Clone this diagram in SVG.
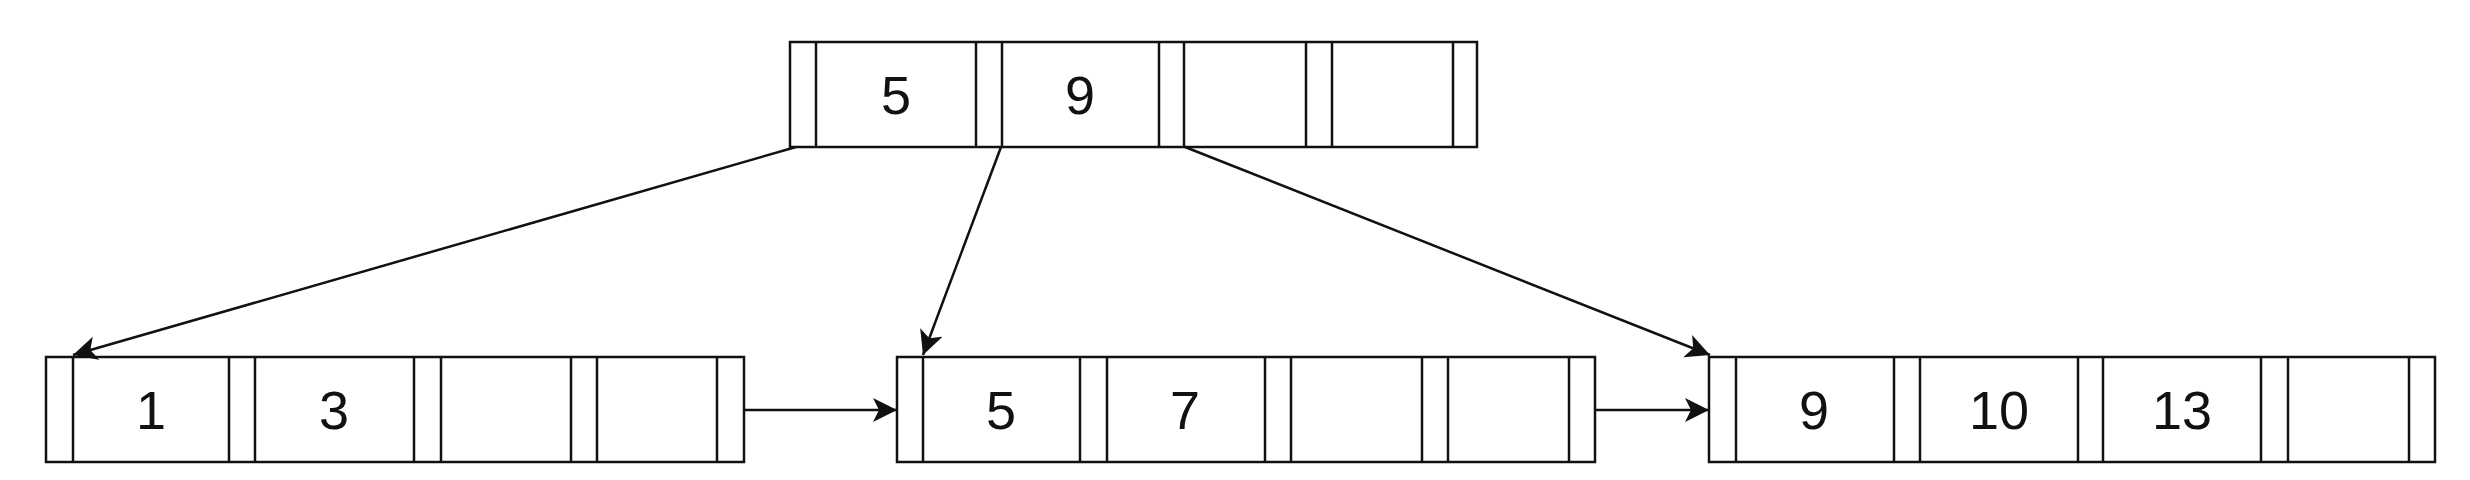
<svg xmlns="http://www.w3.org/2000/svg" width="2470" height="480" viewBox="0 0 2470 480">
  <style>
    .box { fill: #ffffff; stroke: #111111; stroke-width: 2.5; }
    .div { stroke: #111111; stroke-width: 2.5; }
    .key { font-family: "Liberation Sans", Arial, Helvetica, sans-serif; font-size: 54px; fill: #111111; text-anchor: middle; }
    .edge { fill: none; stroke: #111111; stroke-width: 2.5; marker-end: url(#arrow); }
  </style>
  <defs>
    <marker id="arrow" markerUnits="userSpaceOnUse" markerWidth="28" markerHeight="26" refX="24" refY="12" orient="auto">
      <path d="M0,0 L24,12 L0,24 L6,12 Z" fill="#111111"/>
    </marker>
  </defs>
  <rect width="2470" height="480" fill="#ffffff"/>

  <g id="node-root">
    <rect class="box" x="790" y="42" width="687" height="105"/>
    <line class="div" x1="816" y1="42" x2="816" y2="147"/>
    <line class="div" x1="976" y1="42" x2="976" y2="147"/>
    <line class="div" x1="1002" y1="42" x2="1002" y2="147"/>
    <line class="div" x1="1159" y1="42" x2="1159" y2="147"/>
    <line class="div" x1="1184" y1="42" x2="1184" y2="147"/>
    <line class="div" x1="1306" y1="42" x2="1306" y2="147"/>
    <line class="div" x1="1332" y1="42" x2="1332" y2="147"/>
    <line class="div" x1="1453" y1="42" x2="1453" y2="147"/>
    <text class="key" x="896" y="114">5</text>
    <text class="key" x="1080" y="114">9</text>
  </g>

  <g id="node-leaf-1">
    <rect class="box" x="46" y="357" width="698" height="105"/>
    <line class="div" x1="73" y1="357" x2="73" y2="462"/>
    <line class="div" x1="229" y1="357" x2="229" y2="462"/>
    <line class="div" x1="255" y1="357" x2="255" y2="462"/>
    <line class="div" x1="414" y1="357" x2="414" y2="462"/>
    <line class="div" x1="441" y1="357" x2="441" y2="462"/>
    <line class="div" x1="571" y1="357" x2="571" y2="462"/>
    <line class="div" x1="597" y1="357" x2="597" y2="462"/>
    <line class="div" x1="717" y1="357" x2="717" y2="462"/>
    <text class="key" x="151" y="429">1</text>
    <text class="key" x="334" y="429">3</text>
  </g>

  <g id="node-leaf-2">
    <rect class="box" x="897" y="357" width="698" height="105"/>
    <line class="div" x1="923" y1="357" x2="923" y2="462"/>
    <line class="div" x1="1080" y1="357" x2="1080" y2="462"/>
    <line class="div" x1="1107" y1="357" x2="1107" y2="462"/>
    <line class="div" x1="1265" y1="357" x2="1265" y2="462"/>
    <line class="div" x1="1291" y1="357" x2="1291" y2="462"/>
    <line class="div" x1="1422" y1="357" x2="1422" y2="462"/>
    <line class="div" x1="1448" y1="357" x2="1448" y2="462"/>
    <line class="div" x1="1569" y1="357" x2="1569" y2="462"/>
    <text class="key" x="1001" y="429">5</text>
    <text class="key" x="1185" y="429">7</text>
  </g>

  <g id="node-leaf-3">
    <rect class="box" x="1709" y="357" width="726" height="105"/>
    <line class="div" x1="1736" y1="357" x2="1736" y2="462"/>
    <line class="div" x1="1894" y1="357" x2="1894" y2="462"/>
    <line class="div" x1="1920" y1="357" x2="1920" y2="462"/>
    <line class="div" x1="2078" y1="357" x2="2078" y2="462"/>
    <line class="div" x1="2103" y1="357" x2="2103" y2="462"/>
    <line class="div" x1="2261" y1="357" x2="2261" y2="462"/>
    <line class="div" x1="2288" y1="357" x2="2288" y2="462"/>
    <line class="div" x1="2409" y1="357" x2="2409" y2="462"/>
    <text class="key" x="1814" y="429">9</text>
    <text class="key" x="1999" y="429">10</text>
    <text class="key" x="2182" y="429">13</text>
  </g>

  <g id="connectors">
    <line class="edge" x1="796" y1="147" x2="73" y2="355"/>
    <line class="edge" x1="1001" y1="147" x2="923" y2="355"/>
    <line class="edge" x1="1185" y1="147" x2="1710" y2="355"/>
    <line class="edge" x1="744" y1="410" x2="897" y2="410"/>
    <line class="edge" x1="1595" y1="410" x2="1709" y2="410"/>
  </g>
</svg>
